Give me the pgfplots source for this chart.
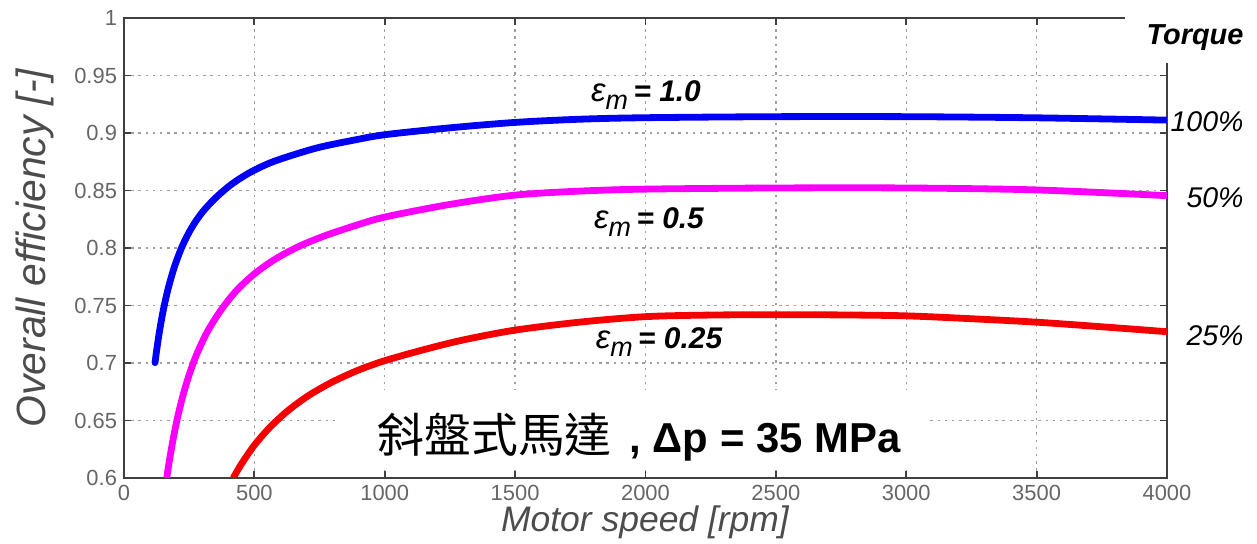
\documentclass[border=0pt]{standalone}
\usepackage{fontspec}
\setmainfont{Liberation Sans}
\newfontfamily\cjk{Noto Sans CJK TC}
\usepackage{pgfplots}
\pgfplotsset{compat=1.18}
\definecolor{cblue}{RGB}{0,0,245}
\definecolor{cmag}{RGB}{250,0,250}
\definecolor{cred}{RGB}{245,0,0}
\newcommand{\epsm}{{\itshape\fontsize{16.5}{16.5}\selectfont ε\raisebox{-0.45ex}{\fontsize{13.5}{13.5}\selectfont m}}}
\begin{document}
\begin{tikzpicture}
\begin{axis}[
  at={(0,0)}, anchor=south west,
  scale only axis, width=521.5bp, height=230bp,
  xmin=0, xmax=4000, ymin=0.6, ymax=1,
  xtick={0,500,1000,1500,2000,2500,3000,3500,4000},
  xticklabels={0,500,1000,1500,2000,2500,3000,3500,4000},
  ytick={0.6,0.65,0.7,0.75,0.8,0.85,0.9,0.95,1},
  yticklabels={0.6,0.65,0.7,0.75,0.8,0.85,0.9,0.95,1},
  grid=major,
  major grid style={gray!75, dash pattern=on 1.2bp off 2.4bp, line width=0.7bp},
  tick align=inside, major tick length=3.5bp,
  axis line style={black!75, line width=1bp},
  every tick/.style={black!75, line width=0.9bp},
  ticklabel style={font=\fontsize{11}{11}\selectfont, text=black!60},
  /pgf/number format/assume math mode=true,
]
\fill[white] (axis cs:828,0.607) rectangle (axis cs:3080,0.6765);
\addplot[cblue, line width=3.4bp, smooth, line join=round, line cap=round] coordinates {
(119,0.7003) (125,0.7107) (135,0.7260) (150,0.7451) (170,0.7653) (195,0.7847)
(225,0.8024) (260,0.8178) (300,0.8310) (350,0.8433) (410,0.8550) (480,0.8653)
(560,0.8740) (650,0.8810) (750,0.8876) (875,0.8935) (1000,0.8985) (1250,0.9045)
(1500,0.9092) (1750,0.9120) (2000,0.9133) (2500,0.9142) (3000,0.9142)
(3500,0.9132) (4000,0.9112)};
\addplot[cmag, line width=3.4bp, smooth, line join=round] coordinates {
(164,0.6000) (175,0.6164) (190,0.6357) (205,0.6522) (225,0.6708) (250,0.6898)
(280,0.7082) (320,0.7273) (370,0.7454) (430,0.7626) (500,0.7775) (580,0.7903)
(670,0.8013) (770,0.8106) (880,0.8190) (1000,0.8269) (1250,0.8379) (1500,0.8460)
(1750,0.8495) (2000,0.8512) (2500,0.8522) (3000,0.8522) (3500,0.8505) (4000,0.8455)};
\addplot[cred, line width=3.4bp, smooth, line join=round] coordinates {
(419,0.6000) (450,0.6121) (500,0.6285) (560,0.6442) (630,0.6588) (710,0.6720)
(800,0.6836) (900,0.6939) (1000,0.7020) (1150,0.7116) (1300,0.7200) (1500,0.7286)
(1750,0.7356) (2000,0.7403) (2250,0.7417) (2500,0.7420) (2750,0.7418) (3000,0.7410)
(3250,0.7385) (3500,0.7355) (3750,0.7315) (4000,0.7272)};
\end{axis}
% cut corner at top right (as in the reference)
\fill[white] (500.4bp,207.6bp) rectangle (540bp,237bp);
% axis labels
\node[rotate=90, text=black!70, font=\itshape\fontsize{20.5}{20.5}\selectfont] at (-44.5bp,115bp) {Overall efficiency [-]};
\node[text=black!70, font=\itshape\fontsize{17.8}{17.8}\selectfont] at (260.5bp,-22bp) {Motor speed [rpm]};
% right labels
\node[font=\bfseries\itshape\fontsize{14.5}{14.5}\selectfont] at (535.5bp,220bp) {Torque};
\node[font=\itshape\fontsize{14.3}{14.3}\selectfont] at (541.5bp,178bp) {100\%};
\node[font=\itshape\fontsize{14.3}{14.3}\selectfont] at (545.5bp,140bp) {50\%};
\node[font=\itshape\fontsize{14.3}{14.3}\selectfont] at (545.5bp,71bp) {25\%};
% epsilon labels
\node at (261bp,191.5bp) {\epsm\ {\bfseries\itshape\fontsize{15}{15}\selectfont = 1.0}};
\node at (262.5bp,128bp) {\epsm\ {\bfseries\itshape\fontsize{15}{15}\selectfont = 0.5}};
\node at (267.5bp,68bp) {\epsm\ {\bfseries\itshape\fontsize{15}{15}\selectfont = 0.25}};
% annotation
\node at (257.5bp,20.5bp) {{\cjk\fontsize{23.5}{23.5}\selectfont 斜盤式馬達}\hspace{9bp}{\bfseries\fontsize{21}{21}\selectfont , Δp = 35 MPa}};
\pgfresetboundingbox
\useasboundingbox (-62bp,-33bp) rectangle (566.5bp,239bp);
\end{tikzpicture}
\end{document}
